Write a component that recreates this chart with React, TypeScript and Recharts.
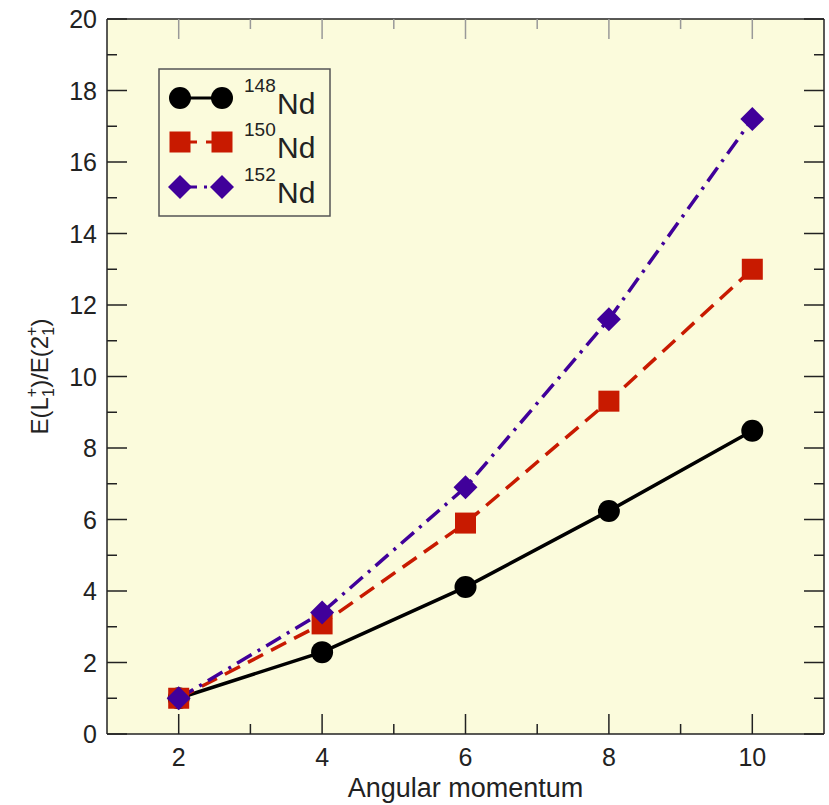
import React from "react";
import { LineChart, Line, XAxis, YAxis, CartesianGrid, Legend } from "recharts";

// angular momentum L and E(L1+)/E(21+) ratios
const angular = [2, 4, 6, 8, 10];
const nd148 = [1.0, 2.29, 4.11, 6.24, 8.48];
const nd150 = [1.0, 3.08, 5.9, 9.31, 13.0];
const nd152 = [1.0, 3.4, 6.9, 11.6, 17.2];

const xTicks = [2, 3, 4, 5, 6, 7, 8, 9, 10];
const yTicks = [0, 1, 2, 3, 4, 5, 6, 7, 8, 9, 10, 11, 12, 13, 14, 15, 16, 17, 18, 19, 20];

// 152Nd is bound to the top/right axes (same domains) so the frame axes get drawn
const series = [
  { key: "nd148", mass: "148", color: "#000000", dash: undefined as string | undefined, marker: "circle", xId: "bottom", yId: "left" },
  { key: "nd150", mass: "150", color: "#c81a00", dash: "17 9", marker: "square", xId: "bottom", yId: "left" },
  { key: "nd152", mass: "152", color: "#40009a", dash: "17 7 3 7", marker: "diamond", xId: "top", yId: "right" },
];

const data = angular.map((L, i) => ({ L, nd148: nd148[i], nd150: nd150[i], nd152: nd152[i] }));

const FONT = "'Liberation Sans', Arial, Helvetica, sans-serif";
const TEXT = "#222";
const FRAME = "#222";

const Marker = ({ kind, x, y, color }: { kind: string; x: number; y: number; color: string }) => {
  if (kind === "circle") return <circle cx={x} cy={y} r={11} fill={color} />;
  if (kind === "square") return <rect x={x - 10.5} y={y - 10.5} width={21} height={21} fill={color} />;
  const h = 12;
  return <polygon points={`${x},${y - h} ${x + h},${y} ${x},${y + h} ${x - h},${y}`} fill={color} />;
};

const makeDot = (kind: string, color: string) => (props: any) => {
  const { cx, cy, index } = props;
  if (cx == null || cy == null) return <g key={index} />;
  return <Marker key={index} kind={kind} x={cx} y={cy} color={color} />;
};

const BottomTick = (props: any) => {
  const { x, y, payload } = props;
  const major = payload.value % 2 === 0;
  return (
    <g>
      <line x1={x} x2={x} y1={y} y2={y - (major ? 20 : 10)} stroke={FRAME} strokeWidth={1.5} />
      {major && (
        <text x={x} y={y + 32} textAnchor="middle" fontSize={25} fontFamily={FONT} fill={TEXT}>
          {payload.value}
        </text>
      )}
    </g>
  );
};

const TopTick = (props: any) => {
  const { x, y, payload } = props;
  const major = payload.value % 2 === 0;
  return <line x1={x} x2={x} y1={y} y2={y + (major ? 20 : 10)} stroke="#999" strokeWidth={1.5} />;
};

const LeftTick = (props: any) => {
  const { x, y, payload } = props;
  const major = payload.value % 2 === 0;
  return (
    <g>
      <line x1={x} x2={x + (major ? 20 : 10)} y1={y} y2={y} stroke={FRAME} strokeWidth={1.5} />
      {major && (
        <text x={x - 10} y={y + 9} textAnchor="end" fontSize={25} fontFamily={FONT} fill={TEXT}>
          {payload.value}
        </text>
      )}
    </g>
  );
};

const RightTick = (props: any) => {
  const { x, y, payload } = props;
  const major = payload.value % 2 === 0;
  return <line x1={x} x2={x - (major ? 20 : 10)} y1={y} y2={y} stroke={FRAME} strokeWidth={1.5} />;
};

const YLabel = (props: any) => {
  const vb = props.viewBox || { x: 0, y: 19, width: 107, height: 715 };
  const cx = vb.x + 48;
  const cy = vb.y + vb.height / 2;
  return (
    <text
      x={cx}
      y={cy}
      transform={`rotate(-90 ${cx} ${cy})`}
      textAnchor="middle"
      fontSize={24}
      fontFamily={FONT}
      fill={TEXT}
    >
      E(L
      <tspan fontSize={16} dy={6}>1</tspan>
      <tspan fontSize={16} dx={-9} dy={-17}>+</tspan>
      <tspan dy={11}>)/E(2</tspan>
      <tspan fontSize={16} dy={6}>1</tspan>
      <tspan fontSize={16} dx={-9} dy={-17}>+</tspan>
      <tspan dy={11}>)</tspan>
    </text>
  );
};

const XLabel = (props: any) => {
  const vb = props.viewBox || { x: 107, y: 734, width: 717, height: 71 };
  return (
    <text x={vb.x + vb.width / 2} y={vb.y + 63} textAnchor="middle" fontSize={27} fontFamily={FONT} fill={TEXT}>
      Angular momentum
    </text>
  );
};

const LegendBox = () => {
  const rows = [30, 74, 119];
  return (
    <svg width={173} height={150} style={{ display: "block" }}>
      <rect x={1} y={1} width={171} height={147} fill="none" stroke="#555" strokeWidth={1.5} />
      {series.map((s, i) => {
        const y = rows[i];
        return (
          <g key={s.key}>
            <line x1={22} x2={64} y1={y} y2={y} stroke={s.color} strokeWidth={3} strokeDasharray={s.dash} />
            <Marker kind={s.marker} x={22} y={y} color={s.color} />
            <Marker kind={s.marker} x={64} y={y} color={s.color} />
            <text x={86} y={y - 6} fontSize={19} fontFamily={FONT} fill={TEXT}>
              {s.mass}
            </text>
            <text x={119} y={y + 16} fontSize={30} fontFamily={FONT} fill={TEXT}>
              Nd
            </text>
          </g>
        );
      })}
    </svg>
  );
};

export default function App() {
  return (
    <div style={{ width: 829, height: 805, background: "#fff", position: "relative" }}>
      <style>{"body{margin:0}"}</style>
      {/* the top and right axes get 1px of room: Recharts skips an axis with zero size */}
      <LineChart width={829} height={805} data={data} margin={{ top: 18, right: 4, left: 0, bottom: 0 }}>
        <CartesianGrid xAxisId="bottom" yAxisId="left" horizontal={false} vertical={false} fill="#fbfbdc" stroke="none" />
        <XAxis
          xAxisId="bottom"
          dataKey="L"
          type="number"
          domain={[1, 11]}
          ticks={xTicks}
          interval={0}
          height={71}
          tickSize={0}
          tickMargin={0}
          tickLine={false}
          tick={<BottomTick />}
          axisLine={{ stroke: FRAME, strokeWidth: 1.5 }}
          label={<XLabel />}
        />
        <XAxis
          xAxisId="top"
          orientation="top"
          dataKey="L"
          type="number"
          domain={[1, 11]}
          ticks={xTicks}
          interval={0}
          height={1}
          tickSize={0}
          tickMargin={0}
          tickLine={false}
          tick={<TopTick />}
          axisLine={{ stroke: FRAME, strokeWidth: 1.5 }}
        />
        <YAxis
          yAxisId="left"
          type="number"
          domain={[0, 20]}
          ticks={yTicks}
          interval={0}
          width={107}
          tickSize={0}
          tickMargin={0}
          tickLine={false}
          tick={<LeftTick />}
          axisLine={{ stroke: FRAME, strokeWidth: 1.5 }}
          label={<YLabel />}
        />
        <YAxis
          yAxisId="right"
          orientation="right"
          type="number"
          domain={[0, 20]}
          ticks={yTicks}
          interval={0}
          width={1}
          tickSize={0}
          tickMargin={0}
          tickLine={false}
          tick={<RightTick />}
          axisLine={{ stroke: FRAME, strokeWidth: 1.5 }}
        />
        <Legend
          layout="horizontal"
          verticalAlign="middle"
          align="center"
          content={() => <LegendBox />}
          wrapperStyle={{ left: 158, top: 68, width: 173, height: 150 }}
        />
        {series.map((s) => (
          <Line
            key={s.key}
            xAxisId={s.xId}
            yAxisId={s.yId}
            dataKey={s.key}
            stroke={s.color}
            strokeWidth={3.5}
            strokeDasharray={s.dash}
            dot={makeDot(s.marker, s.color)}
            activeDot={false}
            isAnimationActive={false}
          />
        ))}
      </LineChart>
    </div>
  );
}
